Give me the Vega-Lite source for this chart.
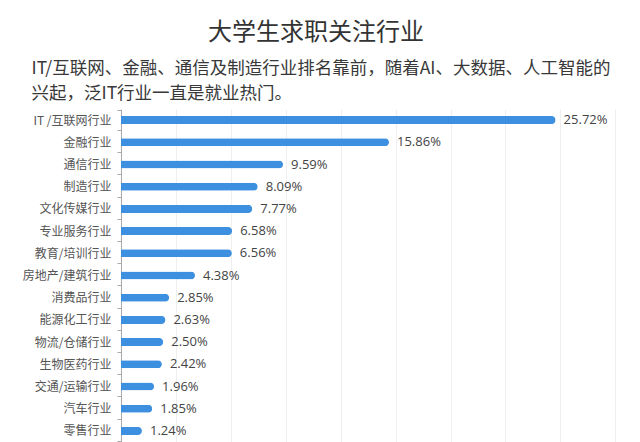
{
  "$schema": "https://vega.github.io/schema/vega-lite/v6.json",
  "width": 512,
  "height": 333,
  "autosize": {"type": "none"},
  "padding": {"left": 121, "top": 109, "right": 7, "bottom": 0},
  "background": "white",
  "config": {"view": {"stroke": null}, "font": "Noto Sans CJK SC"},
  "title": {
    "text": "大学生求职关注行业",
    "anchor": "middle",
    "frame": "group",
    "dx": -61,
    "fontSize": 24,
    "font": "Noto Sans CJK SC",
    "fontWeight": "normal",
    "color": "#333333",
    "offset": 14
  },
  "data": {
    "values": [
      {"industry": "IT /互联网行业", "value": 0.2572},
      {"industry": "金融行业", "value": 0.1586},
      {"industry": "通信行业", "value": 0.0959},
      {"industry": "制造行业", "value": 0.0809},
      {"industry": "文化传媒行业", "value": 0.0777},
      {"industry": "专业服务行业", "value": 0.0658},
      {"industry": "教育/培训行业", "value": 0.0656},
      {"industry": "房地产/建筑行业", "value": 0.0438},
      {"industry": "消费品行业", "value": 0.0285},
      {"industry": "能源化工行业", "value": 0.0263},
      {"industry": "物流/仓储行业", "value": 0.0250},
      {"industry": "生物医药行业", "value": 0.0242},
      {"industry": "交通/运输行业", "value": 0.0196},
      {"industry": "汽车行业", "value": 0.0185},
      {"industry": "零售行业", "value": 0.0124}
    ]
  },
  "encoding": {
    "y": {
      "field": "industry",
      "type": "nominal",
      "sort": null,
      "axis": {
        "title": null,
        "labelFont": "Noto Sans CJK SC",
        "labelFontSize": 12,
        "labelColor": "#555555",
        "labelPadding": 6,
        "tickSize": 4,
        "tickColor": "#aaaaaa",
        "domainColor": "#aaaaaa",
        "tickBand": "extent",
        "grid": false
      }
    },
    "x": {
      "field": "value",
      "type": "quantitative",
      "scale": {"domain": [0, 0.303], "nice": false},
      "axis": {
        "orient": "top",
        "labels": false,
        "ticks": false,
        "domain": false,
        "grid": true,
        "gridColor": "#efefef",
        "values": [0.0325, 0.065, 0.0975, 0.13, 0.1625, 0.195, 0.2275, 0.26, 0.2925],
        "title": ["IT/互联网、金融、通信及制造行业排名靠前，随着AI、大数据、人工智能的", "兴起，泛IT行业一直是就业热门。"],
        "titleFont": "Noto Sans CJK SC",
        "titleFontSize": 17.5,
        "titleFontWeight": "normal",
        "titleColor": "#383838",
        "titleAlign": "left",
        "titleBaseline": "top",
        "titleAngle": 0,
        "titleX": -90,
        "titleY": -50,
        "titleLineHeight": 25
      }
    }
  },
  "layer": [
    {
      "mark": {"type": "bar", "size": 8, "color": "#3d8fe0", "cornerRadiusEnd": 4}
    },
    {
      "mark": {"type": "text", "align": "left", "baseline": "middle", "dx": 8, "fontSize": 13, "color": "#444444", "font": "Open Sans"},
      "encoding": {"text": {"field": "value", "type": "quantitative", "format": ".2%"}}
    }
  ]
}
